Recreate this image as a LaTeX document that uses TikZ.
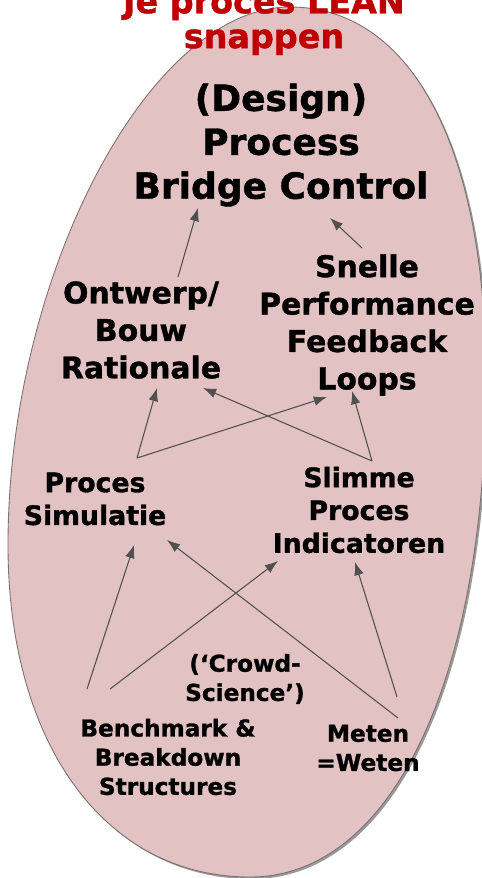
\documentclass[tikz,border=0pt]{standalone}
\usepackage{fontspec}
\setmainfont{DejaVu Sans}[BoldFeatures={FakeBold=1.2}]
\usetikzlibrary{calc,arrows.meta}
\definecolor{eggfill}{RGB}{226,194,195}
\definecolor{eggline}{RGB}{125,112,112}
\definecolor{linkgrey}{RGB}{80,80,80}
\definecolor{titlered}{RGB}{192,0,0}
\tikzstyle{lbl} = [align=center, inner sep=0pt, text=black]
\tikzstyle{big} = [font=\bfseries\fontsize{20.5}{25}\selectfont]
\tikzstyle{mid} = [font=\bfseries\fontsize{17}{21.3}\selectfont]
\tikzstyle{small} = [font=\bfseries\fontsize{15.2}{18.7}\selectfont]
\tikzstyle{tiny} = [font=\bfseries\fontsize{13.2}{16.6}\selectfont]
\tikzstyle{title} = [align=center, inner sep=0pt, text=titlered, font=\bfseries\fontsize{19}{19.8}\selectfont]
\tikzstyle{link} = [draw=linkgrey, line width=0.6pt, -{Latex[length=7.5pt,width=5.5pt]}]
\def\eggpath{(290,7) .. controls (412,7) and (486,149) .. (486,380)
  .. controls (486,678) and (392,877) .. (250,877)
  .. controls (105,877) and (8,744) .. (8,545)
  .. controls (8,276) and (149,7) .. (290,7) -- cycle}

\begin{document}
\begin{tikzpicture}[x=0.02cm,y=-0.02cm]
    \useasboundingbox (0,0) rectangle (482,878);
    \fill[black!40, shift={(2,2)}] \eggpath;
    \draw[draw=eggline, fill=eggfill, line width=0.5pt] \eggpath;
    \node[title](head) at (264,22){Je proces LEAN\\snappen};
    \node[lbl,big](control) at (281,145){(Design)\\Process\\Bridge Control};
    \node[lbl,mid](snelle) at (367,325){Snelle\\Performance\\Feedback\\Loops};
    \node[lbl,mid](rationale) at (141,330){Ontwerp/\\Bouw\\Rationale};
    \node[lbl,small](simulatie) at (95,499){Proces\\Simulatie};
    \node[lbl,small](slimme) at (359,510){Slimme\\Proces\\Indicatoren};
    \node[lbl,tiny](crowd) at (245,679){(‘Crowd-\\Science’)};
    \node[lbl,tiny](bench) at (168,757){Benchmark \&\\Breakdown\\Structures};
    \node[lbl,tiny](meten) at (368,748){Meten\\=Weten};
    \draw[link] ($(rationale)+(37,-53)$) -- ($(control)+(-83,63)$);
    \draw[link] ($(snelle)+(-5,-77)$) -- ($(control)+(49,73)$);
    \draw[link] ($(simulatie)+(42,-41)$) -- ($(rationale)+(16,58)$);
    \draw[link] ($(simulatie)+(42,-41)$) -- ($(snelle)+(-40,72)$);
    \draw[link] ($(slimme)+(13,-49)$) -- ($(rationale)+(62,58)$);
    \draw[link] ($(slimme)+(13,-49)$) -- ($(snelle)+(-15,66)$);
    \draw[link] ($(bench)+(-81,-68)$) -- ($(simulatie)+(39,46)$);
    \draw[link] ($(bench)+(-58,-68)$) -- ($(slimme)+(-81,51)$);
    \draw[link] ($(meten)+(30,-30)$) -- ($(simulatie)+(72,41)$);
    \draw[link] ($(meten)+(29,-51)$) -- ($(slimme)+(-4,52)$);
  \end{tikzpicture}
\end{document}
